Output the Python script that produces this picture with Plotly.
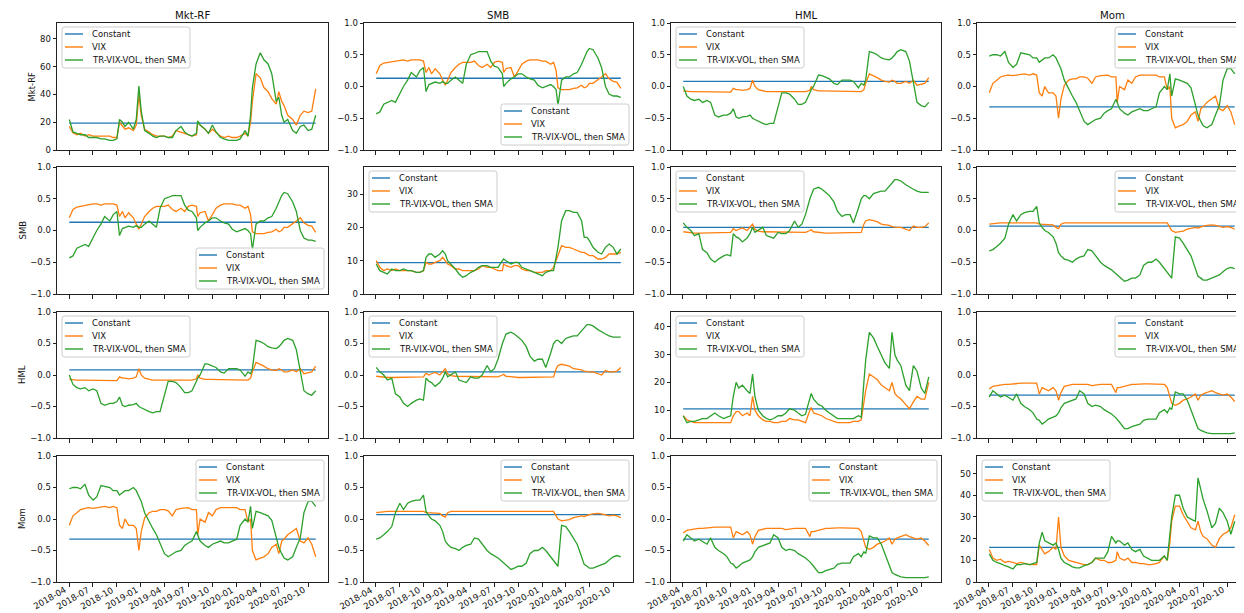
import plotly.graph_objects as go

# ---------------- data ----------------
dates = [
    "2018-04-02", "2018-04-16", "2018-05-01", "2018-05-15", "2018-06-01", "2018-06-15",
    "2018-07-02", "2018-07-16", "2018-08-01", "2018-08-15", "2018-09-04", "2018-09-17",
    "2018-10-01", "2018-10-11", "2018-10-22", "2018-11-01", "2018-11-15", "2018-12-03",
    "2018-12-14", "2018-12-24", "2019-01-02", "2019-01-15", "2019-02-01", "2019-02-15",
    "2019-03-01", "2019-03-15", "2019-04-01", "2019-04-15", "2019-05-01", "2019-05-15",
    "2019-06-03", "2019-06-17", "2019-07-01", "2019-07-15", "2019-08-01", "2019-08-06",
    "2019-08-15", "2019-09-03", "2019-09-16", "2019-10-01", "2019-10-15", "2019-11-01",
    "2019-11-15", "2019-12-02", "2019-12-16", "2020-01-02", "2020-01-15", "2020-02-03",
    "2020-02-14", "2020-02-24", "2020-03-02", "2020-03-16", "2020-04-01", "2020-04-15",
    "2020-05-01", "2020-05-15", "2020-06-01", "2020-06-11", "2020-06-22", "2020-07-01",
    "2020-07-15", "2020-08-03", "2020-08-17", "2020-09-01", "2020-09-15", "2020-10-01",
    "2020-10-15", "2020-10-30",
]

factors = ["Mkt-RF", "SMB", "HML", "Mom"]
series_names = ["Constant", "VIX", "TR-VIX-VOL, then SMA"]
tick_dates = ["2018-04-01", "2018-07-01", "2018-10-01", "2019-01-01", "2019-04-01",
              "2019-07-01", "2019-10-01", "2020-01-01", "2020-04-01", "2020-07-01",
              "2020-10-01"]
tick_labels = ["2018-04", "2018-07", "2018-10", "2019-01", "2019-04", "2019-07",
               "2019-10", "2020-01", "2020-04", "2020-07", "2020-10"]
corr_ticks = [-1.0, -0.5, 0.0, 0.5, 1.0]

# variances (diagonal panels)
var_mkt_const = 19.3
var_mkt_vix = [17, 12.5, 11, 12, 10, 11, 10, 10, 10, 9.5, 10, 9, 9, 20, 17, 15, 16, 14, 18, 40,
               25, 15, 13, 11, 10, 10, 10, 9, 10, 14, 13, 12, 11, 10, 11, 20, 18, 15, 12, 15,
               13, 10, 9, 10, 9, 9, 10, 12, 10, 20, 35, 55, 52, 45, 42, 37, 33, 42, 35, 32,
               25, 22, 18, 25, 28, 27, 28, 44]
var_mkt_tr = [22, 13, 12, 11, 11, 9, 9, 9, 8, 8, 7, 7, 8, 22, 20, 17, 20, 15, 22, 46,
              28, 14, 12, 10, 9, 10, 10, 9, 9, 14, 17, 13, 11, 10, 12, 21, 18, 15, 12, 18,
              13, 9, 8, 7, 7, 7, 8, 14, 10, 25, 45, 62, 70, 65, 62, 55, 35, 38, 25, 20,
              22, 14, 12, 17, 18, 14, 15, 25]

var_smb_const = 9.4
var_smb_vix = [10, 8, 7, 7.5, 7, 7.5, 7, 7, 7, 7, 6.5, 6.5, 7, 9.5, 9, 9, 9.5, 10, 11, 10,
               9, 8.5, 7.5, 7.5, 7, 7, 7, 7, 7.5, 8.5, 8, 8, 7.5, 7, 7, 9, 8.5, 8, 8.5, 8.5,
               7.5, 7, 7, 6.5, 6.5, 6.5, 7, 7, 8, 10, 12, 14.5, 14, 14, 13.5, 13, 12.5, 12.5,
               12, 11.5, 11.5, 10.5, 10.5, 11, 12, 12, 12, 12.5]
var_smb_tr = [9, 7, 6.5, 6, 7.5, 7, 7, 7.5, 7, 7, 6.5, 6.5, 7, 11, 12, 12, 11, 12, 13, 12,
              10, 9, 7.5, 6, 5, 5.5, 6.5, 7, 8, 8.5, 8.5, 8, 8, 8, 10, 10.5, 10, 9, 9.5, 9.5,
              8, 7.5, 7, 6.5, 6, 5.5, 6.5, 7, 7, 11, 14, 22, 25, 25, 24.5, 24.5, 22, 17, 17,
              16, 14, 12.5, 12, 14, 15, 14, 12, 13.5]

var_hml_const = 10.5
var_hml_vix = [8, 6.5, 6, 5.5, 5.5, 5.5, 5.5, 5.5, 5.5, 5.5, 5.5, 5.5, 5.5, 8, 9.5, 9.5, 8, 9,
               8, 15, 10, 8, 6.5, 6, 6, 5.5, 5.5, 6, 6, 7, 6.5, 6.5, 6, 5.5, 10, 11, 9, 8.5,
               8, 7, 6.5, 6, 5.5, 5.5, 5.5, 5.5, 6, 6, 6.5, 12, 17, 23, 22, 21, 19, 18, 17, 20,
               16, 15, 14, 12, 10.5, 13, 15, 14, 14, 20]
var_hml_tr = [8, 5.5, 6, 6, 6.5, 7, 7, 8, 9, 8, 7, 7.5, 8, 15, 20, 18, 19, 17, 16, 23,
              15, 10, 8, 7, 6.5, 7, 8, 8, 9, 10.5, 10, 9, 8, 8.5, 14, 16, 14, 12, 11.5, 10,
              9, 8, 7, 7, 7, 7, 7, 8, 7.5, 20, 28, 38, 36, 33, 30, 27, 25, 38, 30, 28,
              26, 19, 17, 26, 24, 18, 16, 22]

var_mom_const = 16.0
var_mom_vix = [15, 11, 10, 10.5, 9, 9.5, 9, 8.5, 9, 8.5, 8, 8, 8, 17, 15, 13, 14, 16, 15, 30,
               16, 12, 10, 9.5, 9, 8.5, 8, 8, 9, 11, 10, 10, 9, 9, 10, 14, 11, 10, 11, 9,
               9, 8.5, 8.5, 8, 8, 8.5, 9, 12, 10, 18, 28, 35, 35, 31, 28, 25, 24, 28, 23, 21,
               20, 17, 16, 20, 22, 23, 25, 31]
var_mom_tr = [13, 10, 9, 8.5, 7.5, 7, 6, 8, 8, 8.5, 8, 8.5, 9, 18, 23, 19, 18, 17, 18, 15,
              11, 9, 8, 7, 6.5, 6.5, 7.5, 8, 9, 11, 11, 11, 14, 21, 18, 19, 19, 17, 18, 15,
              14, 15, 12, 11, 10, 10, 10, 12, 10, 22, 30, 40, 40, 34, 30, 29, 28, 48, 42, 38,
              33, 25, 27, 34, 32, 28, 22, 28]

# correlations (off-diagonal panels, symmetric)
corr_mkt_smb_const = 0.13
corr_mkt_smb_vix = [0.2, 0.33, 0.37, 0.38, 0.4, 0.4, 0.42, 0.42, 0.4, 0.42, 0.42, 0.42, 0.4,
                    0.22, 0.3, 0.2, 0.28, 0.2, 0.1, 0.02, 0.1, 0.22, 0.3, 0.35, 0.38, 0.38,
                    0.38, 0.4, 0.33, 0.3, 0.35, 0.3, 0.38, 0.4, 0.38, 0.22, 0.28, 0.3, 0.15,
                    0.25, 0.35, 0.4, 0.42, 0.42, 0.42, 0.4, 0.4, 0.35, 0.38, 0.25, -0.02,
                    -0.05, -0.05, -0.05, -0.03, -0.02, 0.02, -0.02, 0.0, 0.05, 0.05, 0.1,
                    0.15, 0.2, 0.12, 0.08, 0.07, -0.03]
corr_mkt_smb_tr = [-0.43, -0.4, -0.28, -0.25, -0.22, -0.25, -0.1, 0.0, 0.1, 0.22, 0.15, 0.25,
                   0.3, -0.08, 0.03, 0.05, 0.07, 0.05, 0.08, 0.05, 0.05, 0.1, 0.15, 0.1, 0.05,
                   0.35, 0.5, 0.52, 0.55, 0.55, 0.55, 0.4, 0.32, 0.3, 0.2, 0.0, 0.05, 0.12,
                   0.15, 0.2, 0.2, 0.15, 0.12, 0.1, 0.02, -0.02, 0.0, 0.03, 0.0, -0.05, -0.3,
                   0.1, 0.15, 0.15, 0.2, 0.22, 0.35, 0.45, 0.55, 0.6, 0.58, 0.45, 0.3, 0.0,
                   -0.12, -0.15, -0.15, -0.17]

corr_mkt_hml_const = 0.08
corr_mkt_hml_vix = [-0.07, -0.08, -0.08, -0.08, -0.08, -0.08, -0.08, -0.08, -0.09, -0.09,
                    -0.09, -0.09, -0.09, -0.03, -0.05, -0.05, -0.06, -0.05, -0.03, 0.1, 0.0,
                    -0.05, -0.07, -0.08, -0.08, -0.08, -0.08, -0.08, -0.08, -0.08, -0.08,
                    -0.08, -0.08, -0.08, -0.06, 0.0, -0.05, -0.07, -0.07, -0.07, -0.08, -0.08,
                    -0.08, -0.08, -0.08, -0.08, -0.08, -0.08, -0.08, -0.05, 0.05, 0.2, 0.17,
                    0.14, 0.1, 0.08, 0.07, 0.1, 0.08, 0.05, 0.05, 0.08, 0.05, 0.1, 0.02, 0.03,
                    0.05, 0.14]
corr_mkt_hml_tr = [0.0, -0.15, -0.2, -0.22, -0.2, -0.25, -0.22, -0.25, -0.45, -0.48, -0.45,
                   -0.45, -0.42, -0.35, -0.48, -0.5, -0.48, -0.47, -0.45, -0.5, -0.52, -0.55,
                   -0.58, -0.6, -0.58, -0.58, -0.3, -0.1, -0.1, -0.12, -0.2, -0.28, -0.28,
                   -0.25, -0.1, -0.05, 0.0, 0.18, 0.17, 0.15, 0.12, 0.05, 0.03, 0.1, 0.1, 0.1,
                   0.08, -0.02, 0.05, 0.02, 0.1, 0.55, 0.53, 0.5, 0.45, 0.43, 0.42, 0.45, 0.5,
                   0.55, 0.58, 0.55, 0.4, 0.05, -0.25, -0.3, -0.32, -0.25]

corr_mkt_mom_const = -0.32
corr_mkt_mom_vix = [-0.1, 0.05, 0.1, 0.15, 0.17, 0.18, 0.17, 0.18, 0.2, 0.2, 0.18, 0.2, 0.18,
                    -0.1, -0.15, 0.0, -0.1, -0.1, -0.15, -0.5, -0.2, 0.02, 0.1, 0.12, 0.12,
                    0.15, 0.15, 0.13, 0.05, 0.15, 0.17, 0.18, 0.18, 0.15, 0.15, -0.25, 0.0,
                    -0.05, 0.1, 0.05, 0.15, 0.18, 0.18, 0.18, 0.18, 0.18, 0.15, 0.15, -0.05,
                    0.0, -0.5, -0.65, -0.62, -0.6, -0.55, -0.45, -0.4, -0.55, -0.35, -0.32,
                    -0.25, -0.2, -0.15, -0.35, -0.38, -0.3, -0.4, -0.6]
corr_mkt_mom_tr = [0.48, 0.5, 0.5, 0.48, 0.55, 0.38, 0.3, 0.35, 0.53, 0.52, 0.5, 0.45, 0.45,
                   0.38, 0.42, 0.45, 0.45, 0.5, 0.45, 0.35, 0.28, 0.1, -0.05, -0.15, -0.25,
                   -0.4, -0.55, -0.6, -0.55, -0.52, -0.5, -0.42, -0.38, -0.35, -0.2, -0.25,
                   -0.35, -0.42, -0.45, -0.4, -0.38, -0.35, -0.38, -0.38, -0.35, -0.32, -0.1,
                   0.0, -0.05, 0.2, -0.15, 0.12, 0.1, 0.08, 0.05, -0.02, -0.3, -0.45, -0.55,
                   -0.62, -0.65, -0.6, -0.45, -0.3, 0.1, 0.28, 0.28, 0.2]

corr_smb_hml_const = 0.05
corr_smb_hml_vix = [-0.02, -0.03, -0.03, -0.04, -0.04, -0.04, -0.04, -0.04, -0.04, -0.04,
                    -0.04, -0.04, -0.03, 0.03, 0.0, 0.02, 0.04, 0.0, 0.05, 0.1, 0.02, -0.01,
                    -0.02, -0.02, -0.02, -0.03, -0.03, -0.02, -0.02, -0.03, -0.02, -0.02,
                    -0.03, -0.03, 0.0, 0.01, -0.02, -0.03, -0.03, -0.04, -0.04, -0.04, -0.04,
                    -0.04, -0.04, -0.04, -0.04, -0.03, -0.03, 0.1, 0.15, 0.17, 0.16, 0.14,
                    0.1, 0.09, 0.08, 0.06, 0.05, 0.05, 0.05, 0.02, 0.0, 0.07, 0.05, 0.05,
                    0.06, 0.12]
corr_smb_hml_tr = [0.12, 0.05, 0.0, -0.08, -0.05, -0.3, -0.35, -0.45, -0.5, -0.45, -0.4, -0.38,
                   -0.4, -0.05, -0.1, -0.12, -0.18, -0.12, -0.05, 0.05, -0.03, 0.0, 0.05,
                   -0.08, -0.1, -0.12, -0.03, -0.05, -0.05, 0.0, 0.15, 0.05, 0.1, 0.25, 0.5,
                   0.55, 0.65, 0.68, 0.65, 0.6, 0.55, 0.45, 0.3, 0.22, 0.25, 0.25, 0.12, 0.35,
                   0.5, 0.55, 0.55, 0.5, 0.58, 0.6, 0.62, 0.62, 0.7, 0.75, 0.8, 0.8, 0.78,
                   0.72, 0.68, 0.65, 0.62, 0.6, 0.6, 0.6]

corr_smb_mom_const = 0.07
corr_smb_mom_vix = [0.1, 0.11, 0.12, 0.12, 0.12, 0.12, 0.13, 0.13, 0.13, 0.12, 0.12, 0.12, 0.12,
                    0.1, 0.1, 0.1, 0.1, 0.09, 0.05, 0.03, 0.1, 0.12, 0.12, 0.12, 0.12, 0.12,
                    0.12, 0.12, 0.12, 0.12, 0.12, 0.12, 0.12, 0.12, 0.11, 0.11, 0.12, 0.12,
                    0.12, 0.12, 0.12, 0.12, 0.12, 0.12, 0.12, 0.12, 0.12, 0.12, 0.12, 0.05,
                    0.0, -0.03, -0.02, -0.01, 0.02, 0.03, 0.05, 0.04, 0.06, 0.07, 0.08, 0.09,
                    0.08, 0.07, 0.05, 0.06, 0.05, 0.02]
corr_smb_mom_tr = [-0.32, -0.3, -0.25, -0.2, -0.12, 0.1, 0.25, 0.15, 0.25, 0.28, 0.3, 0.3,
                   0.38, 0.12, 0.05, 0.0, -0.03, -0.1, -0.2, -0.35, -0.4, -0.45, -0.47, -0.5,
                   -0.45, -0.42, -0.4, -0.3, -0.32, -0.4, -0.5, -0.55, -0.58, -0.62, -0.68,
                   -0.7, -0.72, -0.8, -0.78, -0.75, -0.75, -0.7, -0.55, -0.5, -0.5, -0.45,
                   -0.5, -0.6, -0.65, -0.72, -0.75, -0.1, -0.12, -0.2, -0.3, -0.4, -0.6,
                   -0.72, -0.75, -0.78, -0.78, -0.75, -0.72, -0.7, -0.65, -0.6, -0.58, -0.6]

corr_hml_mom_const = -0.32
corr_hml_mom_vix = [-0.22, -0.18, -0.17, -0.16, -0.15, -0.15, -0.14, -0.14, -0.13, -0.13,
                    -0.13, -0.13, -0.13, -0.3, -0.2, -0.22, -0.25, -0.2, -0.25, -0.4, -0.28,
                    -0.18, -0.16, -0.15, -0.15, -0.15, -0.15, -0.15, -0.17, -0.16, -0.15,
                    -0.15, -0.15, -0.15, -0.28, -0.2, -0.2, -0.18, -0.16, -0.15, -0.15, -0.14,
                    -0.14, -0.14, -0.14, -0.14, -0.14, -0.15, -0.2, -0.35, -0.45, -0.48,
                    -0.45, -0.4, -0.38, -0.35, -0.3, -0.4, -0.32, -0.3, -0.28, -0.25, -0.28,
                    -0.3, -0.32, -0.3, -0.35, -0.42]
corr_hml_mom_tr = [-0.35, -0.25, -0.3, -0.35, -0.32, -0.35, -0.4, -0.3, -0.45, -0.5, -0.55,
                   -0.6, -0.7, -0.72, -0.78, -0.75, -0.7, -0.67, -0.65, -0.6, -0.52, -0.45,
                   -0.42, -0.4, -0.38, -0.25, -0.3, -0.45, -0.5, -0.48, -0.5, -0.55, -0.58,
                   -0.62, -0.68, -0.7, -0.75, -0.85, -0.85, -0.82, -0.8, -0.78, -0.72, -0.7,
                   -0.7, -0.7, -0.6, -0.55, -0.6, -0.52, -0.55, -0.27, -0.3, -0.3, -0.4,
                   -0.55, -0.75, -0.85, -0.88, -0.9, -0.92, -0.93, -0.93, -0.94, -0.94,
                   -0.93, -0.93, -0.92]

# ---------------- panel definitions ----------------
variances = {
    0: (var_mkt_const, var_mkt_vix, var_mkt_tr),
    1: (var_smb_const, var_smb_vix, var_smb_tr),
    2: (var_hml_const, var_hml_vix, var_hml_tr),
    3: (var_mom_const, var_mom_vix, var_mom_tr),
}
correlations = {
    (0, 1): (corr_mkt_smb_const, corr_mkt_smb_vix, corr_mkt_smb_tr),
    (0, 2): (corr_mkt_hml_const, corr_mkt_hml_vix, corr_mkt_hml_tr),
    (0, 3): (corr_mkt_mom_const, corr_mkt_mom_vix, corr_mkt_mom_tr),
    (1, 2): (corr_smb_hml_const, corr_smb_hml_vix, corr_smb_hml_tr),
    (1, 3): (corr_smb_mom_const, corr_smb_mom_vix, corr_smb_mom_tr),
    (2, 3): (corr_hml_mom_const, corr_hml_mom_vix, corr_hml_mom_tr),
}
var_ranges = {0: [0, 91.5], 1: [0, 38.1], 2: [0, 45.3], 3: [0, 58.1]}
var_dticks = {0: 20, 1: 10, 2: 10, 3: 10}

legend_loc = [
    ["ul", "lr", "ul", "ur"],
    ["lr", "ul", "ul", "ur"],
    ["ul", "ul", "ul", "ur"],
    ["ur", "ur", "ur", "ul"],
]

colors = ["#1f77b4", "#ff7f0e", "#2ca02c"]
FONT = "DejaVu Sans"
W, H = 1244, 613
COL_L = [49, 356, 663, 969]
COL_R = [320, 625, 933, 1239]
ROW_T = [15, 159, 304, 448]
ROW_B = [142, 286, 430, 574]


def px(x):
    return x / W


def py(y):
    return 1 - y / H


fig = go.Figure()
shapes = []
annotations = []
layout = {}

for i in range(4):
    for j in range(4):
        k = i * 4 + j + 1
        xname = "x" if k == 1 else f"x{k}"
        yname = "y" if k == 1 else f"y{k}"
        if i == j:
            const, vix, tr = variances[i]
        else:
            const, vix, tr = correlations[(min(i, j), max(i, j))]
        ys = [[const] * len(dates), vix, tr]
        for s in range(3):
            fig.add_trace(go.Scatter(
                x=dates, y=ys[s], mode="lines", name=series_names[s],
                line=dict(color=colors[s], width=1.3),
                xaxis=xname, yaxis=yname, showlegend=False,
                hoverinfo="x+y+name",
            ))

        xa = dict(
            domain=[px(COL_L[j]), px(COL_R[j])], anchor=yname, type="date",
            range=["2018-02-14", "2020-12-16"],
            tickmode="array", tickvals=tick_dates, ticktext=tick_labels,
            showticklabels=False,
            ticks="outside", ticklen=3.5, tickwidth=0.8, tickcolor="#222",
            showline=True, mirror=True, linecolor="#222", linewidth=1,
            showgrid=False, zeroline=False, automargin=False,
            tickfont=dict(family=FONT, size=8.6, color="#111"),
        )
        ya = dict(
            domain=[py(ROW_B[i]), py(ROW_T[i])], anchor=xname,
            ticks="outside", ticklen=3.5, tickwidth=0.8, tickcolor="#222",
            showline=True, mirror=True, linecolor="#222", linewidth=1,
            showgrid=False, zeroline=False, automargin=False,
            tickfont=dict(family=FONT, size=8.5, color="#111"),
        )
        if i == j:
            ya.update(range=var_ranges[i], tickmode="linear", tick0=0, dtick=var_dticks[i])
        else:
            ya.update(range=[-1, 1], tickmode="array", tickvals=corr_ticks, tickformat=".1f")
        layout["xaxis" if k == 1 else f"xaxis{k}"] = xa
        layout["yaxis" if k == 1 else f"yaxis{k}"] = ya

        # rotated date labels under the bottom row (matplotlib autofmt_xdate style)
        if i == 3:
            for td, tl in zip(tick_dates, tick_labels):
                annotations.append(dict(
                    xref=xname, yref="paper", x=td, y=py(ROW_B[i] + 1.5),
                    xanchor="right", yanchor="top", textangle=-30, showarrow=False,
                    borderpad=0, text=tl,
                    font=dict(family=FONT, size=8.6, color="#111")))

        # ---- matplotlib-style legend box ----
        bw, bh = 128, 41
        loc = legend_loc[i][j]
        if loc == "ul":
            bx0, by0 = COL_L[j] + 5, ROW_T[i] + 4
        elif loc == "ur":
            bx0, by0 = COL_R[j] - 4 - bw, ROW_T[i] + 4
        else:
            bx0, by0 = COL_R[j] - 4 - bw, ROW_B[i] - 5 - bh
        bx1, by1 = bx0 + bw, by0 + bh
        r = 2.5
        path = (
            f"M {px(bx0 + r)},{py(by0)} L {px(bx1 - r)},{py(by0)} "
            f"Q {px(bx1)},{py(by0)} {px(bx1)},{py(by0 + r)} "
            f"L {px(bx1)},{py(by1 - r)} Q {px(bx1)},{py(by1)} {px(bx1 - r)},{py(by1)} "
            f"L {px(bx0 + r)},{py(by1)} Q {px(bx0)},{py(by1)} {px(bx0)},{py(by1 - r)} "
            f"L {px(bx0)},{py(by0 + r)} Q {px(bx0)},{py(by0)} {px(bx0 + r)},{py(by0)} Z"
        )
        shapes.append(dict(type="path", xref="paper", yref="paper", path=path,
                           fillcolor="rgba(255,255,255,0.8)",
                           line=dict(color="#cccccc", width=1), layer="above"))
        for s in range(3):
            yy = by0 + 7 + 13 * s
            shapes.append(dict(type="line", xref="paper", yref="paper",
                               x0=px(bx0 + 3), x1=px(bx0 + 21), y0=py(yy), y1=py(yy),
                               line=dict(color=colors[s], width=1.4), layer="above"))
            annotations.append(dict(xref="paper", yref="paper", x=px(bx0 + 27.5), y=py(yy),
                                    xanchor="left", yanchor="middle", showarrow=False,
                                    text=series_names[s],
                                    font=dict(family=FONT, size=8.5, color="#111")))

# column titles
for j in range(4):
    annotations.append(dict(xref="paper", yref="paper", x=px((COL_L[j] + COL_R[j]) / 2),
                            y=py(7), xanchor="center", yanchor="middle", showarrow=False,
                            text=factors[j], font=dict(family=FONT, size=10.2, color="#111")))
# row labels
row_label_x = [24, 14, 14, 14]
for i in range(4):
    annotations.append(dict(xref="paper", yref="paper", x=px(row_label_x[i]),
                            y=py((ROW_T[i] + ROW_B[i]) / 2), xanchor="center",
                            yanchor="middle", textangle=-90, showarrow=False,
                            text=factors[i], font=dict(family=FONT, size=8.5, color="#111")))

fig.update_layout(
    width=W, height=H, margin=dict(l=0, r=0, t=0, b=0),
    paper_bgcolor="white", plot_bgcolor="white",
    showlegend=False, shapes=shapes, annotations=annotations,
    font=dict(family=FONT, size=8.5, color="#111"),
    **layout,
)

fig.write_html("out.html")
